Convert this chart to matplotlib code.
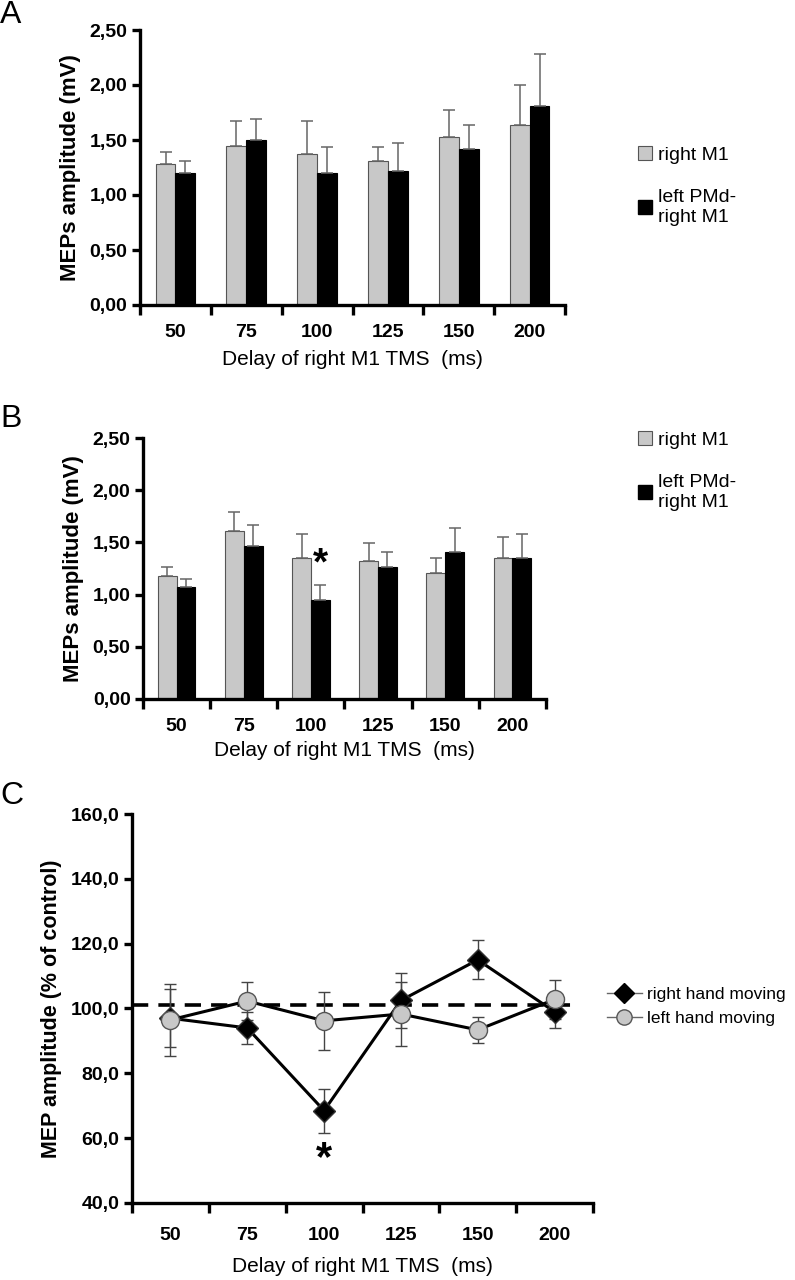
import matplotlib
matplotlib.use("Agg")
import matplotlib.pyplot as plt
from matplotlib.lines import Line2D
from matplotlib.patches import Patch
import numpy as np

plt.rcParams["font.family"] = ["Liberation Sans", "DejaVu Sans"]

# data
delays = ["50", "75", "100", "125", "150", "200"]

a_right_m1 = [1.28, 1.45, 1.37, 1.31, 1.53, 1.64]
a_right_m1_err = [0.11, 0.22, 0.30, 0.13, 0.24, 0.36]
a_pmd_m1 = [1.20, 1.50, 1.20, 1.22, 1.42, 1.81]
a_pmd_m1_err = [0.11, 0.19, 0.24, 0.25, 0.22, 0.47]

b_right_m1 = [1.18, 1.61, 1.35, 1.32, 1.21, 1.35]
b_right_m1_err = [0.08, 0.18, 0.23, 0.17, 0.14, 0.20]
b_pmd_m1 = [1.07, 1.47, 0.95, 1.26, 1.41, 1.35]
b_pmd_m1_err = [0.08, 0.20, 0.14, 0.15, 0.23, 0.23]

c_right_hand = [97.0, 94.0, 68.5, 102.5, 115.0, 99.0]
c_right_hand_err = [9.0, 5.0, 6.8, 8.5, 6.0, 5.0]
c_left_hand = [96.5, 102.3, 96.2, 98.3, 93.4, 102.8]
c_left_hand_err = [11.0, 6.0, 9.0, 10.0, 4.0, 6.0]
control_line = 101.0

GRAY = "#c8c8c8"
W, H = 795, 1280


def rect(left, right, top, bottom):
    return [left / W, 1 - bottom / H, (right - left) / W, (bottom - top) / H]


def style_axis(ax, n, tick_pad):
    for s in ["top", "right"]:
        ax.spines[s].set_visible(False)
    for s in ["left", "bottom"]:
        ax.spines[s].set_linewidth(2.4)
    ax.set_xlim(-0.5, n - 0.5)
    ax.set_xticks(np.arange(n + 1) - 0.5)
    ax.set_xticklabels([])
    ax.set_xticks(np.arange(n), minor=True)
    ax.set_xticklabels(delays, minor=True, fontsize=14, fontweight="bold")
    ax.tick_params(axis="x", which="major", direction="out", length=7, width=2.4)
    ax.tick_params(axis="x", which="minor", length=0, pad=tick_pad)
    ax.tick_params(axis="y", direction="out", length=6, width=2.4, labelsize=14, pad=3)
    for t in ax.get_yticklabels():
        t.set_fontweight("bold")


def bar_panel(ax, gray_vals, gray_err, black_vals, black_err):
    x = np.arange(len(delays))
    w = 0.28
    zero = np.zeros(len(x))
    ekw = dict(ecolor="#666666", elinewidth=1.1, capsize=4, capthick=1.1)
    ax.bar(x - w / 2, gray_vals, w, color=GRAY, edgecolor="#555555", linewidth=0.8,
           yerr=[zero, gray_err], error_kw=ekw)
    ax.bar(x + w / 2, black_vals, w, color="black", edgecolor="black", linewidth=0.8,
           yerr=[zero, black_err], error_kw=ekw)
    ax.set_ylim(0, 2.5)
    ticks = np.arange(0, 2.51, 0.5)
    ax.set_yticks(ticks)
    ax.set_yticklabels([f"{v:.2f}".replace(".", ",") for v in ticks])
    style_axis(ax, len(delays), 14)
    ax.set_ylabel("MEPs amplitude (mV)", fontsize=16, fontweight="bold", labelpad=6)


fig = plt.figure(figsize=(W / 100, H / 100), dpi=100)

ax_a = fig.add_axes(rect(140, 565, 30, 305))
bar_panel(ax_a, a_right_m1, a_right_m1_err, a_pmd_m1, a_pmd_m1_err)
ax_a.set_xlabel("Delay of right M1 TMS  (ms)", fontsize=15, labelpad=6)

ax_b = fig.add_axes(rect(143, 546, 438, 699))
bar_panel(ax_b, b_right_m1, b_right_m1_err, b_pmd_m1, b_pmd_m1_err)
ax_b.set_xlabel("Delay of right M1 TMS  (ms)", fontsize=15, labelpad=4)
ax_b.text(2 + 0.14, 1.12, "*", ha="center", va="bottom", fontsize=28, fontweight="bold")

bar_handles = [Patch(facecolor=GRAY, edgecolor="#555555", linewidth=0.8),
               Patch(facecolor="black", edgecolor="black")]
bar_labels = ["right M1", "left PMd-\nright M1"]
for y_top in [138, 423]:
    fig.legend(bar_handles, bar_labels, loc="upper left",
               bbox_to_anchor=(630 / W, 1 - y_top / H), frameon=False,
               fontsize=14, handlelength=0.75, handleheight=0.75,
               handletextpad=0.3, labelspacing=1.3, borderaxespad=0)

# panel C
ax_c = fig.add_axes(rect(132, 593, 814, 1203))
x = np.arange(len(delays))
ax_c.axhline(control_line, xmax=0.97, color="black", lw=2.6, dashes=(4.5, 2.8), zorder=1)
ekw = dict(fmt="none", ecolor="#444444", elinewidth=1, capsize=4, capthick=1, zorder=2)
ax_c.errorbar(x, c_right_hand, yerr=c_right_hand_err, **ekw)
ax_c.errorbar(x, c_left_hand, yerr=c_left_hand_err, **ekw)
ax_c.plot(x, c_right_hand, color="black", lw=2.2, marker="D", ms=11,
          mfc="black", mec="#333333", zorder=3)
ax_c.plot(x, c_left_hand, color="black", lw=2.2, marker="o", ms=13,
          mfc=GRAY, mec="#555555", mew=1, zorder=4)
ax_c.text(2, 47.5, "*", ha="center", va="bottom", fontsize=30, fontweight="bold")
ax_c.set_ylim(40, 160)
c_ticks = np.arange(40, 161, 20)
ax_c.set_yticks(c_ticks)
ax_c.set_yticklabels([f"{v:.1f}".replace(".", ",") for v in c_ticks])
style_axis(ax_c, len(delays), 17)
ax_c.set_ylabel("MEP amplitude (% of control)", fontsize=15.5, fontweight="bold", labelpad=6)
ax_c.set_xlabel("Delay of right M1 TMS  (ms)", fontsize=15, labelpad=10)

line_handles = [Line2D([], [], color="#666666", lw=1, marker="D", ms=10, mfc="black", mec="black"),
                Line2D([], [], color="#666666", lw=1, marker="o", ms=11, mfc=GRAY, mec="#555555")]
fig.legend(line_handles, ["right hand moving", "left hand moving"], loc="upper left",
           bbox_to_anchor=(600 / W, 1 - 980 / H), frameon=False, fontsize=12.5,
           handlelength=2.0, handletextpad=0.3, labelspacing=0.5, borderaxespad=0)

for letter, ypix in [("A", 15), ("B", 419), ("C", 796)]:
    fig.text(0, 1 - ypix / H, letter, fontsize=23, va="center", ha="left")

fig.savefig("out.png", dpi=100)
